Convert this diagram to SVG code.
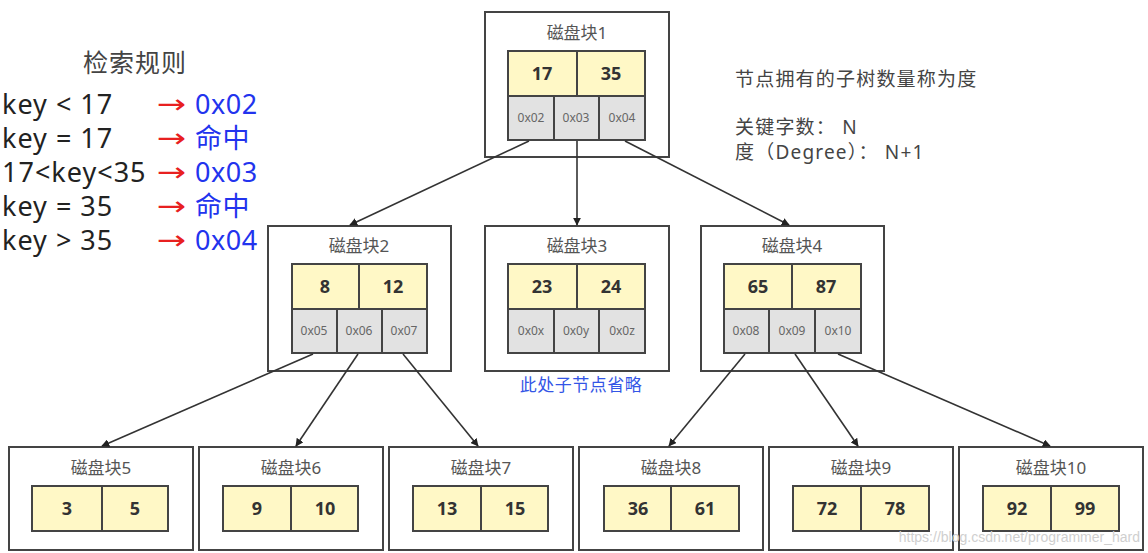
<svg xmlns="http://www.w3.org/2000/svg" width="1148" height="553" viewBox="0 0 1148 553">
<defs>
<style>
.box{fill:#fff;stroke:#444;stroke-width:2}
.key{fill:#fff8c6;stroke:#444;stroke-width:2}
.ptr{fill:#e2e2e2;stroke:#444;stroke-width:2}
.title{font-family:"Noto Sans","Noto Sans CJK SC",sans-serif;font-size:17px;fill:#555;text-anchor:middle}
.kt{font-family:"Noto Sans","Noto Sans CJK SC",sans-serif;font-size:18px;font-weight:bold;fill:#333;text-anchor:middle}
.pt{font-family:"Noto Sans",sans-serif;font-size:12px;fill:#666;text-anchor:middle}
.rule{font-family:"Noto Sans","Noto Sans CJK SC",sans-serif;font-size:27px;fill:#222;letter-spacing:1px}
.blue{font-family:"Noto Sans","Noto Sans CJK SC",sans-serif;font-size:27px;fill:#2233ee;letter-spacing:0.5px}
.red{font-family:"DejaVu Sans",sans-serif;font-size:26px;fill:#e82020}
.note{font-family:"Noto Sans","Noto Sans CJK SC",sans-serif;font-size:19px;fill:#444;letter-spacing:1.2px}
.conn line{stroke:#333;stroke-width:1.6;marker-end:url(#ah)}
</style>
<marker id="ah" viewBox="0 0 10 10" refX="9" refY="5" markerWidth="8" markerHeight="8" orient="auto" markerUnits="userSpaceOnUse">
<path d="M0,0 L10,5 L0,10 z" fill="#222"/>
</marker>
</defs>
<rect width="1148" height="553" fill="#fff"/>

<g id="rules">
<text x="135" y="72" class="title" style="font-size:25px;fill:#444;letter-spacing:1px">检索规则</text>
<text x="2" y="114" class="rule">key &lt; 17</text>
<text x="2" y="148" class="rule">key = 17</text>
<text x="2" y="182" class="rule">17&lt;key&lt;35</text>
<text x="2" y="216" class="rule">key = 35</text>
<text x="2" y="250" class="rule">key &gt; 35</text>
<g transform="translate(157,0) scale(1.35,1)">
<text x="0" y="113" class="red">→</text>
<text x="0" y="147" class="red">→</text>
<text x="0" y="181" class="red">→</text>
<text x="0" y="215" class="red">→</text>
<text x="0" y="249" class="red">→</text>
</g>
<text x="195" y="114" class="blue">0x02</text>
<text x="195" y="148" class="blue">命中</text>
<text x="195" y="182" class="blue">0x03</text>
<text x="195" y="216" class="blue">命中</text>
<text x="195" y="250" class="blue">0x04</text>
</g>

<g id="notes">
<text x="735" y="86" class="note">节点拥有的子树数量称为度</text>
<text x="735" y="134" class="note">关键字数： N</text>
<text x="735" y="159" class="note">度（Degree）： N+1</text>
</g>

<g id="block1">
<rect class="box" x="485" y="12" width="184" height="145"/>
<text x="577" y="39" class="title">磁盘块1</text>
<rect class="key" x="508" y="51" width="69" height="45"/>
<rect class="key" x="577" y="51" width="68" height="45"/>
<rect class="ptr" x="508" y="96" width="46" height="44"/>
<rect class="ptr" x="554" y="96" width="45" height="44"/>
<rect class="ptr" x="599" y="96" width="46" height="44"/>
<text x="542" y="80" class="kt">17</text>
<text x="611" y="80" class="kt">35</text>
<text x="531" y="122" class="pt">0x02</text>
<text x="576" y="122" class="pt">0x03</text>
<text x="622" y="122" class="pt">0x04</text>
</g>

<g id="block2">
<rect class="box" x="268" y="226" width="183" height="145"/>
<text x="359" y="252" class="title">磁盘块2</text>
<rect class="key" x="292" y="264" width="67" height="45"/>
<rect class="key" x="359" y="264" width="68" height="45"/>
<rect class="ptr" x="292" y="309" width="45" height="44"/>
<rect class="ptr" x="337" y="309" width="45" height="44"/>
<rect class="ptr" x="382" y="309" width="45" height="44"/>
<text x="325" y="293" class="kt">8</text>
<text x="393" y="293" class="kt">12</text>
<text x="314" y="335" class="pt">0x05</text>
<text x="359" y="335" class="pt">0x06</text>
<text x="404" y="335" class="pt">0x07</text>
</g>

<g id="block3">
<rect class="box" x="485" y="226" width="184" height="145"/>
<text x="577" y="252" class="title">磁盘块3</text>
<rect class="key" x="508" y="264" width="69" height="45"/>
<rect class="key" x="577" y="264" width="68" height="45"/>
<rect class="ptr" x="508" y="309" width="46" height="44"/>
<rect class="ptr" x="554" y="309" width="45" height="44"/>
<rect class="ptr" x="599" y="309" width="46" height="44"/>
<text x="542" y="293" class="kt">23</text>
<text x="611" y="293" class="kt">24</text>
<text x="531" y="335" class="pt">0x0x</text>
<text x="576" y="335" class="pt">0x0y</text>
<text x="622" y="335" class="pt">0x0z</text>
<text x="581" y="391" class="title" style="fill:#3355e6;font-size:17px;letter-spacing:0.5px">此处子节点省略</text>
</g>

<g id="block4">
<rect class="box" x="701" y="226" width="183" height="145"/>
<text x="792" y="252" class="title">磁盘块4</text>
<rect class="key" x="724" y="264" width="68" height="45"/>
<rect class="key" x="792" y="264" width="69" height="45"/>
<rect class="ptr" x="724" y="309" width="45" height="44"/>
<rect class="ptr" x="769" y="309" width="46" height="44"/>
<rect class="ptr" x="815" y="309" width="46" height="44"/>
<text x="758" y="293" class="kt">65</text>
<text x="826" y="293" class="kt">87</text>
<text x="746" y="335" class="pt">0x08</text>
<text x="792" y="335" class="pt">0x09</text>
<text x="838" y="335" class="pt">0x10</text>
</g>

<g id="block5">
<rect class="box" x="9" y="447" width="184" height="103"/>
<text x="101" y="474" class="title">磁盘块5</text>
<rect class="key" x="32" y="486" width="70" height="45"/>
<rect class="key" x="102" y="486" width="66" height="45"/>
<text x="67" y="515" class="kt">3</text>
<text x="135" y="515" class="kt">5</text>
</g>

<g id="block6">
<rect class="box" x="199" y="447" width="184" height="103"/>
<text x="291" y="474" class="title">磁盘块6</text>
<rect class="key" x="223" y="486" width="68" height="45"/>
<rect class="key" x="291" y="486" width="67" height="45"/>
<text x="257" y="515" class="kt">9</text>
<text x="325" y="515" class="kt">10</text>
</g>

<g id="block7">
<rect class="box" x="389" y="447" width="184" height="103"/>
<text x="481" y="474" class="title">磁盘块7</text>
<rect class="key" x="413" y="486" width="68" height="45"/>
<rect class="key" x="481" y="486" width="67" height="45"/>
<text x="447" y="515" class="kt">13</text>
<text x="515" y="515" class="kt">15</text>
</g>

<g id="block8">
<rect class="box" x="579" y="447" width="184" height="103"/>
<text x="671" y="474" class="title">磁盘块8</text>
<rect class="key" x="604" y="486" width="67" height="45"/>
<rect class="key" x="671" y="486" width="68" height="45"/>
<text x="638" y="515" class="kt">36</text>
<text x="705" y="515" class="kt">61</text>
</g>

<g id="block9">
<rect class="box" x="769" y="447" width="184" height="103"/>
<text x="861" y="474" class="title">磁盘块9</text>
<rect class="key" x="793" y="486" width="68" height="45"/>
<rect class="key" x="861" y="486" width="68" height="45"/>
<text x="827" y="515" class="kt">72</text>
<text x="895" y="515" class="kt">78</text>
</g>

<g id="block10">
<rect class="box" x="959" y="447" width="184" height="103"/>
<text x="1051" y="474" class="title">磁盘块10</text>
<rect class="key" x="983" y="486" width="68" height="45"/>
<rect class="key" x="1051" y="486" width="68" height="45"/>
<text x="1017" y="515" class="kt">92</text>
<text x="1085" y="515" class="kt">99</text>
</g>

<g class="conn" id="connectors">
<line x1="529" y1="141" x2="350" y2="225"/>
<line x1="577" y1="141" x2="577" y2="225"/>
<line x1="625" y1="141" x2="789" y2="225"/>
<line x1="313" y1="354" x2="102" y2="446"/>
<line x1="358" y1="354" x2="296" y2="446"/>
<line x1="403" y1="354" x2="478" y2="446"/>
<line x1="745" y1="354" x2="669" y2="446"/>
<line x1="795" y1="354" x2="858" y2="446"/>
<line x1="838" y1="354" x2="1050" y2="446"/>
</g>

<text x="1140" y="542" text-anchor="end" style="font-family:'Liberation Sans',sans-serif;font-size:14px;fill:#cfcfcf">https://blog.csdn.net/programmer_hard</text>
</svg>
